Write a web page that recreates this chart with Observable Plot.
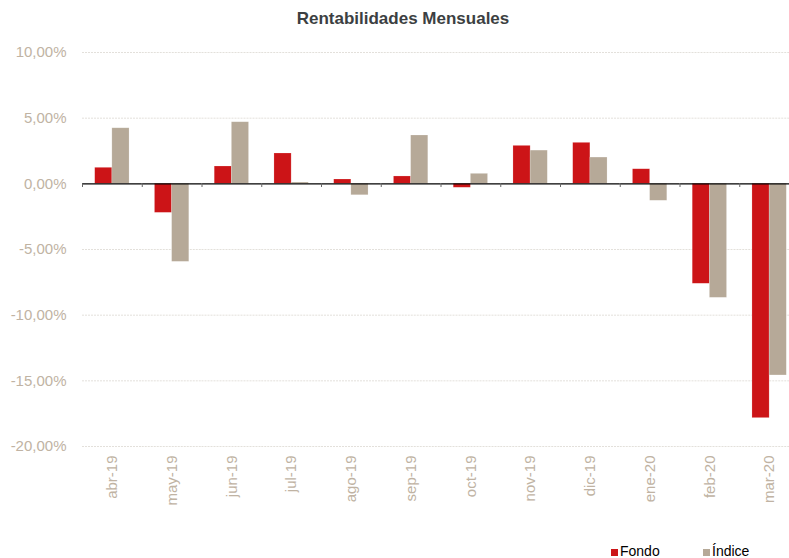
<!DOCTYPE html>
<html>
<head>
<meta charset="utf-8">
<script src="https://cdn.jsdelivr.net/npm/d3@7"></script>
<script src="https://cdn.jsdelivr.net/npm/@observablehq/plot@0.6"></script>
<style>
  html, body { margin: 0; padding: 0; background: #fff; overflow: hidden; }
  #wrap { position: relative; width: 789px; height: 558px; overflow: hidden; font-family: "Liberation Sans", Arial, sans-serif; }
  #title { position: absolute; left: 0; top: 9px; width: 806px; text-align: center; font-size: 17px; font-weight: bold; color: #3c3f42; }
  #chart { position: absolute; left: 0; top: 40px; width: 799px; }
  #chart svg { max-width: none !important; }
  #legend { position: absolute; left: 0; top: 543px; width: 789px; height: 20px; font-size: 14px; color: #000; }
  .item { position: absolute; top: 0; white-space: nowrap; }
  .sw { display: inline-block; width: 7px; height: 7px; margin-right: 2px; }
</style>
</head>
<body>
<div id="wrap">
  <div id="title">Rentabilidades Mensuales</div>
  <div id="chart"></div>
  <div id="legend"></div>
</div>
<script>
const months = ["abr-19","may-19","jun-19","jul-19","ago-19","sep-19","oct-19","nov-19","dic-19","ene-20","feb-20","mar-20"];
const series = ["Fondo","Índice"];
const fondo  = [1.22, -2.21, 1.32, 2.31, 0.33, 0.56, -0.30, 2.89, 3.12, 1.11, -7.61, -17.84];
const indice = [4.23, -5.94, 4.69, 0.10, -0.87, 3.68, 0.76, 2.53, 2.00, -1.29, -8.68, -14.59];
const yTicks = [-20, -15, -10, -5, 0, 5, 10];
const colors = ["#cc1417", "#b6a998"];

const data = [];
months.forEach((m, i) => {
  data.push({month: m, serie: series[0], value: fondo[i] / 100});
  data.push({month: m, serie: series[1], value: indice[i] / 100});
});

const loc = d3.formatLocale({decimal: ",", thousands: ".", grouping: [3], currency: ["", "€"], minus: "-"});
const pct = loc.format(".2%");

const labelColor = "#c0b3a3";
const step = (799 - 82) / months.length;
const padOuter = 0.74;
const subStep = step / (2 + 2 * padOuter);

const chart = Plot.plot({
  width: 799,
  height: 503,
  marginLeft: 82,
  marginRight: 0,
  marginTop: 12,
  marginBottom: 97,
  style: {fontFamily: "'Liberation Sans', Arial, sans-serif", background: "transparent", maxWidth: "none"},
  fx: {domain: months, paddingInner: 0, paddingOuter: 0, round: false, label: null},
  x: {domain: series, paddingInner: 0, paddingOuter: padOuter, round: false, axis: null},
  y: {domain: [-0.2, 0.1], label: null},
  color: {domain: series, range: colors},
  marks: [
    Plot.gridY(yTicks.filter(d => d !== 0).map(d => d / 100), {stroke: "#e3e0db", strokeOpacity: 1, strokeDasharray: "2,1"}),
    Plot.axisY(yTicks.map(d => d / 100), {tickSize: 0, tickPadding: 16, tickFormat: pct, fontSize: 15, fill: labelColor, label: null}),
    Plot.axisFx({anchor: "bottom", tickSize: 0, tickPadding: 9, tickRotate: -90, fontSize: 15, fill: labelColor, label: null}),
    Plot.barY(data, {fx: "month", x: "serie", y: "value", fill: "serie", stroke: "#fff", strokeOpacity: 0.3, strokeWidth: 0.6}),
    Plot.ruleY([0], {stroke: "#000", strokeWidth: 1.4}),
    Plot.ruleX(months, {fx: d => d, x: () => series[0], y1: 0, y2: -0.0028, stroke: "#666", strokeWidth: 1, dx: -(padOuter * subStep + subStep / 2)})
  ]
});
document.getElementById("chart").appendChild(chart);

const legend = document.getElementById("legend");
[[series[0], colors[0], 611], [series[1], colors[1], 703]].forEach(([name, c, x]) => {
  const it = document.createElement("div");
  it.className = "item";
  it.style.left = x + "px";
  it.innerHTML = `<span class="sw" style="background:${c}"></span>${name}`;
  legend.appendChild(it);
});
</script>
</body>
</html>
